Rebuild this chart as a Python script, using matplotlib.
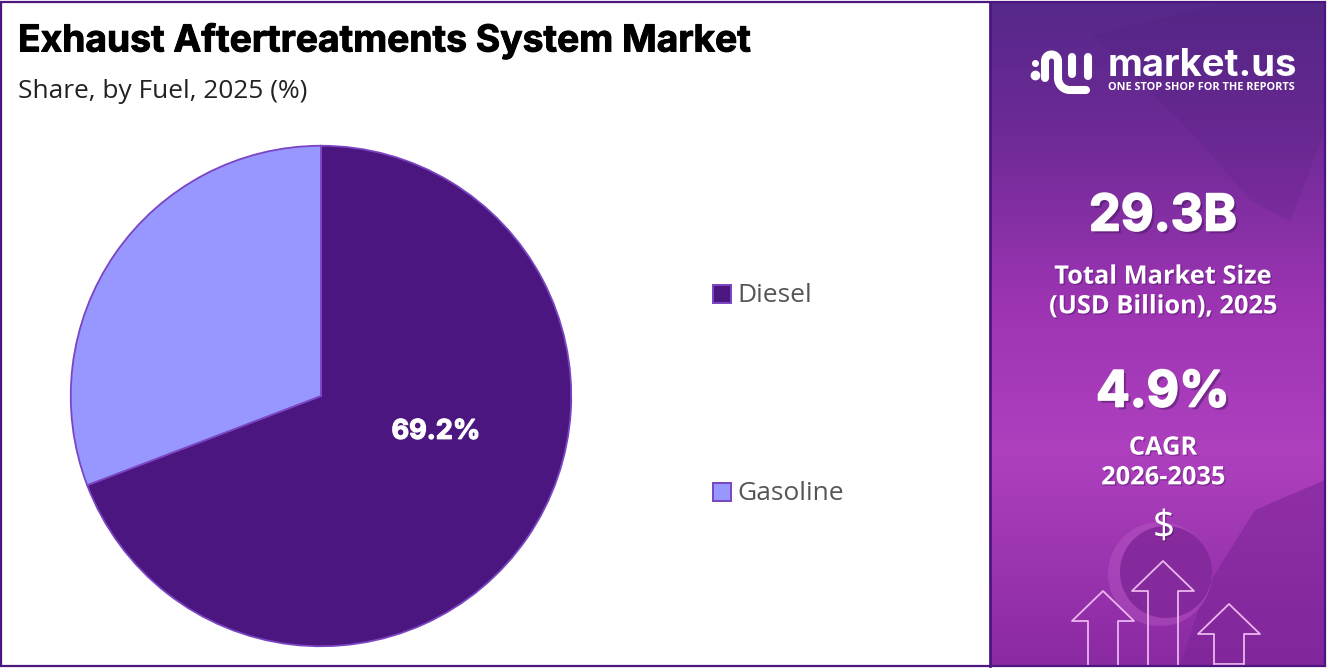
#!/usr/bin/env python3
# Exhaust aftertreatment market share pie with the side info panel
import numpy as np
import matplotlib
matplotlib.use('Agg')
import matplotlib.pyplot as plt
from matplotlib.colors import LinearSegmentedColormap
from matplotlib.patches import Circle, Polygon, Rectangle
import matplotlib.patheffects as pe

W = 1327
H = 669

#data:
fuels = ['Diesel', 'Gasoline']
shares = [69.2, 30.8]
fuel_colors = ['#4B167F', '#9896FF']
edge_color = '#7A45C2'
title = 'Exhaust Aftertreatments System Market'
subtitle = 'Share, by Fuel, 2025 (%)'
panel_value = '29.3B'
panel_value_label = 'Total Market Size\n(USD Billion), 2025'
panel_rate = '4.9%'
panel_rate_label = 'CAGR\n2026-2035'

plt.rcParams['font.family'] = ['Open Sans', 'DejaVu Sans']

fig = plt.figure(figsize=(W/100, H/100), dpi=100, facecolor='white')

#background axes in pixel coords, y goes down
bg = fig.add_axes([0, 0, 1, 1])
bg.set_xlim(0, W)
bg.set_ylim(H, 0)
bg.axis('off')

#side panel gradient
panel_cmap = LinearSegmentedColormap.from_list('panel', [
    (0.0, '#56288A'), (0.2, '#6E2A96'), (0.45, '#9C34B2'),
    (0.68, '#AE40BE'), (1.0, '#8A2AA2')])
grad = np.linspace(0, 1, 256).reshape(-1, 1)
bg.imshow(grad, cmap=panel_cmap, extent=[991, W-2, H-4, 3], aspect='auto', zorder=1)
bg.set_xlim(0, W)
bg.set_ylim(H, 0)

#faint shapes in the panel photo
bg.add_patch(Polygon([(1092, 35), (1225, 3), (1325, 3), (1325, 130), (1290, 222), (1250, 200), (1190, 130)],
                     fc='#4E1F78', alpha=0.16, ec='none', zorder=2))
bg.add_patch(Polygon([(1180, 665), (1205, 590), (1255, 510), (1325, 480), (1325, 665)],
                     fc='#7A2496', alpha=0.55, ec='none', zorder=2))
bg.add_patch(Circle((1160, 574), 52, fc='#BC5CC8', alpha=0.40, ec='none', zorder=2))
bg.add_patch(Circle((1166, 572), 46, fc='#7D2496', alpha=0.80, ec='none', zorder=2))

#frame
bg.add_patch(Rectangle((1, 2), W-3, H-5, fc='none', ec='#4B167F', lw=1.6, zorder=6))
bg.plot([990, 990], [2, H-3], color='#4B167F', lw=2, zorder=6)

#pie, box is set so centre/radius land on the reference
heavy = [pe.Stroke(linewidth=0.9, foreground='white'), pe.Normal()]
pie_ax = fig.add_axes([70/W, 1-647/H, 502/W, 502/H])
wedges, _ = pie_ax.pie(shares, colors=fuel_colors, startangle=90, counterclock=False,
                       wedgeprops={'edgecolor': edge_color, 'linewidth': 1.3})
pie_ax.set_xlim(-1.003, 1.003)
pie_ax.set_ylim(-1.003, 1.003)
pie_ax.text(0.46, -0.143, f'{shares[0]}%', color='white', fontsize=19.5, fontweight='bold',
            family='Inter', ha='center', va='center', path_effects=heavy)

#titles
title_heavy = [pe.Stroke(linewidth=0.7, foreground='black'), pe.Normal()]
bg.text(18, 41, title, color='black', fontsize=26.8, fontweight='bold', family='Inter',
        ha='left', va='center', zorder=5, path_effects=title_heavy)
bg.text(18, 92, subtitle, color='#222222', fontsize=18.9, ha='left', va='center', zorder=5)

#legend
for name, col, y in zip(fuels, fuel_colors, [294, 492]):
    bg.add_patch(Rectangle((712.5, y-9), 18, 18, fc=col, ec=edge_color, lw=1.4, zorder=5))
    bg.text(737, y+2, name, color='#555555', fontsize=19, ha='left', va='center', zorder=5)

#panel texts
big_shadow = [pe.SimplePatchShadow(offset=(2, -2), shadow_rgbFace='#3E1258', alpha=0.45),
              pe.Stroke(linewidth=1.2, foreground='white'), pe.Normal()]
shadow = [pe.SimplePatchShadow(offset=(1, -1), shadow_rgbFace='#3E1258', alpha=0.4), pe.Normal()]
bg.text(1163, 217, panel_value, color='white', fontsize=36.5, fontweight='bold', family='Inter',
        ha='center', va='center', zorder=5, path_effects=big_shadow)
bg.text(1163, 292, panel_value_label, color='white', fontsize=18.3, fontweight='bold',
        ha='center', va='center', linespacing=1.25, zorder=5, path_effects=shadow)
bg.text(1163, 393, panel_rate, color='white', fontsize=36, fontweight='bold', family='Inter',
        ha='center', va='center', zorder=5, path_effects=big_shadow)
bg.text(1163, 463, panel_rate_label, color='white', fontsize=18.3, fontweight='bold',
        ha='center', va='center', linespacing=1.25, zorder=5, path_effects=shadow)
bg.text(1164, 528, '$', color='white', fontsize=28, ha='center', va='center', zorder=5,
        path_effects=shadow)

#logo
bg.text(1108, 66, 'market.us', color='white', fontsize=27.5, fontweight='bold', family='Inter',
        ha='left', va='center', zorder=5)
bg.text(1108, 88, 'ONE STOP SHOP FOR THE REPORTS', color='white', fontsize=7.8, fontweight='bold',
        ha='left', va='center', zorder=5)
bg.plot([1035], [75], color='white', lw=0, marker='o', ms=6, zorder=5)
bg.plot([1035], [63], color='white', lw=0, marker='o', ms=4, zorder=5)
t = np.linspace(np.pi, 0, 30)
corner = np.linspace(np.pi, np.pi/2, 15)
logo_x = np.r_[1045, 1051.5 + 6.5*np.cos(t), 1058, 1070 + 12*np.cos(corner), 1086]
logo_y = np.r_[78, 61 - 6.5*np.sin(t), 78, 78 + 12*np.sin(corner), 90]
bg.plot(logo_x, logo_y, color='white', lw=5.8, solid_capstyle='round', zorder=5)
bg.plot([1072, 1072], [57, 74], color='white', lw=5.8, solid_capstyle='round', zorder=5)
bg.plot([1088, 1088], [57, 76], color='white', lw=5.8, solid_capstyle='round', zorder=5)

#arrow outlines
def arrow(cx, tip, head_y, half_head, half_stem, bottom):
    xs = [cx-half_stem, cx-half_stem, cx-half_head, cx, cx+half_head, cx+half_stem, cx+half_stem]
    ys = [bottom, head_y, head_y, tip, head_y, head_y, bottom]
    bg.plot(xs, ys, color='#EBB6EE', lw=1.3, zorder=5)

arrow(1103, 591, 621, 31, 15, 665)
arrow(1163, 561, 591, 31, 15, 665)
arrow(1229, 604, 634, 31, 15, 664)
bg.plot([1214, 1244], [664, 664], color='#EBB6EE', lw=1.3, zorder=5)

fig.savefig('out.png', dpi=100)
